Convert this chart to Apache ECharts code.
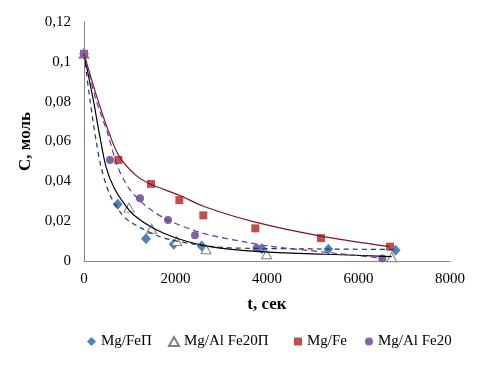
<!DOCTYPE html>
<html><head><meta charset="utf-8">
<script src="https://cdn.jsdelivr.net/npm/echarts@6/dist/echarts.min.js"></script>
<style>html,body{margin:0;padding:0;background:#fff}#c{width:496px;height:370px}</style>
</head><body><div id="c"></div>
<script>
// Measured points
const tFeP   = [0, 737, 1355, 1960, 2572, 3884, 5340, 6812];
const cFeP   = [0.104, 0.0285, 0.0112, 0.0084, 0.0075, 0.0062, 0.0059, 0.0054];
const tFe20P = [0, 984, 1479, 2026, 2667, 3993, 6725];
const cFe20P = [0.104, 0.0268, 0.0162, 0.0100, 0.0059, 0.0034, 0.0019];
const tFe    = [0, 750, 1464, 2084, 2608, 3745, 5180, 6689];
const cFe    = [0.104, 0.0507, 0.0387, 0.0306, 0.0229, 0.0164, 0.0115, 0.0072];
const tFe20  = [0, 568, 1224, 1836, 2426, 3774, 6521];
const cFe20  = [0.104, 0.0507, 0.0315, 0.0206, 0.0129, 0.0064, 0.0013];

// Fitted curves
const tFitFeP   = [0, 131, 262, 372, 553, 809, 1005, 1661, 2389, 3119, 3884, 5340, 6812];
const cFitFeP   = [0.104, 0.0808, 0.0607, 0.0473, 0.034, 0.024, 0.0197, 0.0122, 0.0085, 0.0067, 0.0063, 0.0060, 0.0058];
const tFitFe20P = [0, 204, 335, 481, 662, 918, 1100, 1515, 2026, 2754, 3847, 5305, 6725];
const cFitFe20P = [0.104, 0.0808, 0.064, 0.0473, 0.0365, 0.0275, 0.0228, 0.0164, 0.0114, 0.0072, 0.0047, 0.0034, 0.0022];
const tFitFe    = [0, 300, 553, 772, 1137, 1464, 2084, 2608, 3745, 5180, 6689];
const cFitFe    = [0.104, 0.081, 0.064, 0.0524, 0.043, 0.0385, 0.033, 0.0275, 0.0195, 0.0125, 0.0072];
const tFitFe20  = [0, 262, 518, 736, 991, 1355, 1836, 2426, 2754, 3483, 4066, 5500, 6521];
const cFitFe20  = [0.104, 0.081, 0.064, 0.0473, 0.0362, 0.0276, 0.0205, 0.0152, 0.013, 0.0097, 0.0074, 0.0039, 0.0014];

const xTicks = [0, 2000, 4000, 6000, 8000];
const yTicks = [0, 0.02, 0.04, 0.06, 0.08, 0.1, 0.12];

const names = ['Mg/FeП', 'Mg/Al Fe20П', 'Mg/Fe', 'Mg/Al Fe20'];

const zip = (a, b) => a.map((v, i) => [v, b[i]]);
const font = 'Liberation Serif, Times New Roman, serif';

const chart = echarts.init(document.getElementById('c'));
function lg(name, left, w, h) {
  return {data: [name], left: left, top: 334, padding: 0, itemWidth: w, itemHeight: h, itemGap: 0,
    selectedMode: false, textStyle: {fontFamily: font, fontSize: 15, color: '#000'}};
}
const lineCommon = {showSymbol: false, smooth: 0.3, silent: true};
chart.setOption({
  animation: false,
  grid: {left: 84, right: 46, top: 22, bottom: 109},
  legend: [lg(names[0], 87, 9, 9), lg(names[1], 168, 10, 9), lg(names[2], 294, 8, 8), lg(names[3], 365, 8, 8)],
  xAxis: {
    type: 'value', min: xTicks[0], max: xTicks[xTicks.length - 1], interval: 2000,
    name: 't, сек', nameLocation: 'middle', nameGap: 35,
    nameTextStyle: {fontFamily: font, fontSize: 17, fontWeight: 'bold', color: '#000'},
    axisLine: {lineStyle: {color: '#868686'}}, axisTick: {show: false}, splitLine: {show: false},
    axisLabel: {fontFamily: font, fontSize: 15, color: '#000', margin: 11, formatter: v => String(v)}
  },
  yAxis: {
    type: 'value', min: yTicks[0], max: yTicks[yTicks.length - 1], interval: 0.02,
    name: 'C, моль', nameLocation: 'middle', nameGap: 45,
    nameTextStyle: {fontFamily: font, fontSize: 17, fontWeight: 'bold', color: '#000'},
    axisLine: {show: true, lineStyle: {color: '#868686'}}, axisTick: {show: false}, splitLine: {show: false},
    axisLabel: {fontFamily: font, fontSize: 15, color: '#000', margin: 13,
      formatter: v => String(+v.toFixed(2)).replace('.', ',')}
  },
  series: [
    Object.assign({type: 'line', data: zip(tFitFeP, cFitFeP),
      lineStyle: {color: '#1F3864', width: 1.2, type: [5, 4]}}, lineCommon),
    Object.assign({type: 'line', data: zip(tFitFe20P, cFitFe20P),
      lineStyle: {color: '#000000', width: 1.2}}, lineCommon),
    Object.assign({type: 'line', data: zip(tFitFe, cFitFe),
      lineStyle: {color: '#7F1030', width: 1.2}}, lineCommon),
    Object.assign({type: 'line', data: zip(tFitFe20, cFitFe20),
      lineStyle: {color: '#7030A0', width: 1.2, type: [6, 4]}}, lineCommon),
    {name: names[0], type: 'scatter', data: zip(tFeP, cFeP), symbol: 'diamond', symbolSize: [10, 11],
      itemStyle: {color: '#4F81BD', opacity: 1}},
    {name: names[1], type: 'scatter', data: zip(tFe20P, cFe20P), symbol: 'triangle', symbolSize: [10, 9],
      itemStyle: {color: '#ffffff', borderColor: '#7F7F7F', borderWidth: 1, opacity: 1}},
    {name: names[2], type: 'scatter', data: zip(tFe, cFe), symbol: 'rect', symbolSize: 8,
      itemStyle: {color: '#C0504D', opacity: 1}},
    {name: names[3], type: 'scatter', data: zip(tFe20, cFe20), symbol: 'circle', symbolSize: 8,
      itemStyle: {color: '#8064A2', opacity: 1}}
  ]
});
</script></body></html>
